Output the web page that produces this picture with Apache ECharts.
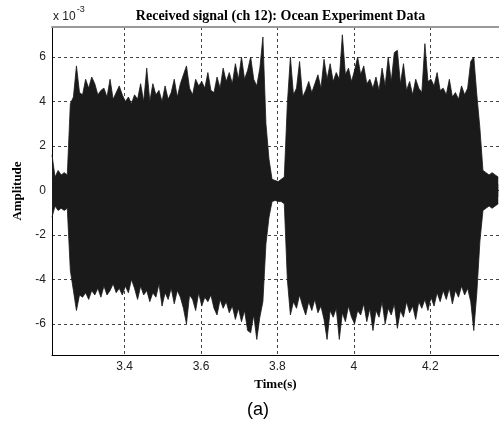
<!DOCTYPE html>
<html><head><meta charset="utf-8">
<script src="https://cdn.jsdelivr.net/npm/echarts@6/dist/echarts.min.js"></script>
<style>html,body{margin:0;padding:0;background:#fff}#c{width:499px;height:424px}</style>
</head><body><div id="c"></div>
<script>
// sample times: t = tStart + k*tStep
var tStart = 3.21;
var tStep = 0.008;
// upper peaks (x 10^-3)
var upperPeaks = [
 1.6,0.6,0.9,0.7,0.8,0.7,
 3.9,4.2,5.6,4.4,4.3,5.0,4.6,5.1,4.8,4.3,4.5,4.6,4.2,5.0,4.1,4.4,4.7,4.3,4.0,4.2,3.9,4.3,4.1,4.8,
 4.0,5.5,4.0,4.8,4.3,4.5,4.0,4.7,4.1,4.4,5.0,4.2,4.8,5.2,5.6,4.6,4.3,5.0,4.7,4.9,4.6,5.3,4.5,4.4,
 5.1,4.6,5.5,4.9,5.3,4.8,5.7,5.0,6.0,5.0,5.4,6.0,5.0,4.7,5.5,6.9,3.0,
 1.4,0.5,0.45,0.4,0.5,0.6,
 3.9,6.0,4.3,4.6,5.8,4.2,4.5,4.9,4.4,4.8,5.2,4.6,5.9,5.0,5.7,4.9,5.3,5.0,7.0,5.2,5.5,4.9,5.4,6.0,
 5.2,5.6,4.8,5.0,4.6,5.1,4.5,5.5,4.7,6.0,4.9,6.2,6.3,4.8,5.7,4.5,4.9,4.3,5.0,4.6,4.4,6.6,4.9,5.0,
 4.7,5.3,4.5,4.6,4.3,5.0,4.2,4.4,4.1,4.7,4.3,4.6,5.8,6.0,4.3,2.8,
 0.9,0.8,0.7,0.8,0.7,0.6
];
// lower peaks (x 10^-3)
var lowerPeaks = [
 -1.2,-0.7,-0.9,-0.8,-0.9,-0.8,
 -3.6,-4.5,-5.4,-4.7,-4.8,-4.6,-4.9,-4.5,-4.7,-4.4,-4.8,-4.3,-4.7,-4.5,-4.2,-4.6,-4.4,-4.7,-4.3,-4.6,-4.0,-4.4,-4.9,-4.3,
 -4.7,-4.5,-5.0,-4.6,-4.8,-4.2,-5.2,-4.6,-4.9,-4.4,-5.1,-4.5,-4.8,-5.3,-6.0,-4.7,-4.9,-5.4,-4.6,-5.2,-4.8,-5.0,-4.7,-5.3,
 -5.6,-4.9,-5.3,-5.0,-5.5,-5.2,-5.8,-5.3,-5.9,-5.4,-6.3,-6.4,-5.6,-6.7,-5.7,-5.0,-2.4,
 -1.2,-0.5,-0.45,-0.5,-0.5,-0.6,
 -4.0,-5.6,-5.0,-5.3,-4.7,-5.2,-5.6,-5.0,-5.4,-4.9,-5.5,-5.2,-5.8,-6.7,-5.4,-5.7,-5.3,-6.7,-5.5,-5.9,
 -5.2,-5.7,-6.0,-5.4,-5.6,-5.1,-5.9,-5.3,-6.3,-5.4,-5.7,-5.0,-6.0,-5.3,-5.6,-5.1,-6.2,-5.4,-5.7,-5.0,
 -5.5,-5.2,-5.8,-5.0,-5.3,-4.9,-5.4,-4.8,-5.2,-4.6,-5.0,-4.5,-4.9,-4.4,-5.1,-4.5,-4.8,-4.3,-4.7,-4.4,
 -5.0,-6.3,-4.6,-2.3,
 -0.9,-0.8,-0.7,-0.8,-0.7,-0.6
];
var xTicks = [3.4, 3.6, 3.8, 4.0, 4.2];
var yTicks = [-6, -4, -2, 0, 2, 4, 6];

var upperData = [], lowerData = [];
for (var k = 0; k < upperPeaks.length; k++) upperData.push([tStart + k * tStep, upperPeaks[k]]);
for (var j = 0; j < lowerPeaks.length; j++) lowerData.push([tStart + j * tStep, lowerPeaks[j]]);

var serif = '"Liberation Serif","DejaVu Serif",serif';
var sans = '"Liberation Sans",Arial,sans-serif';
var gridLine = { show: true, lineStyle: { color: '#444', type: [3, 3], width: 1 } };
var ink = '#1a1a1a';

var chart = echarts.init(document.getElementById('c'), null, { renderer: 'canvas' });
chart.setOption({
  animation: false,
  backgroundColor: '#fff',
  title: {
    text: 'Received signal (ch 12): Ocean Experiment Data',
    left: 275.5, top: 4, textAlign: 'center',
    textStyle: { fontFamily: serif, fontWeight: 'bold', fontSize: 14, color: '#000' }
  },
  grid: { left: 52, right: 0, top: 27, bottom: 69 },
  xAxis: [{
    type: 'value', min: 3.21, max: 4.38,
    name: 'Time(s)', nameLocation: 'middle', nameGap: 20,
    nameTextStyle: { fontFamily: serif, fontWeight: 'bold', fontSize: 13, color: '#000' },
    axisLine: { show: true, onZero: false, lineStyle: { color: '#000', width: 1 } },
    axisTick: { show: false, customValues: xTicks },
    axisLabel: { customValues: xTicks, fontFamily: sans, fontSize: 12, color: '#222', margin: 6 },
    splitLine: gridLine
  }, {
    type: 'value', position: 'top', min: 3.21, max: 4.38,
    axisLine: { show: true, onZero: false, lineStyle: { color: '#999', width: 2 } },
    axisTick: { show: false }, axisLabel: { show: false }, splitLine: { show: false }
  }],
  yAxis: {
    type: 'value', min: -7.4, max: 7.35,
    name: 'Amplitude', nameLocation: 'middle', nameGap: 28, nameRotate: 90,
    nameTextStyle: { fontFamily: serif, fontWeight: 'bold', fontSize: 13, color: '#000' },
    axisLine: { show: true, onZero: false, lineStyle: { color: '#000', width: 1 } },
    axisTick: { show: false, customValues: yTicks },
    axisLabel: { customValues: yTicks, fontFamily: sans, fontSize: 12, color: '#222', margin: 6 },
    splitLine: gridLine
  },
  graphic: [{
    type: 'text', left: 53, top: 5,
    style: {
      text: '{a|x 10}{b|-3}',
      rich: {
        a: { fontFamily: sans, fontSize: 12, fill: '#222', verticalAlign: 'bottom', lineHeight: 18 },
        b: { fontFamily: sans, fontSize: 9, fill: '#222', verticalAlign: 'top', lineHeight: 18, padding: [0, 0, 6, 1] }
      }
    }
  }, {
    type: 'text', left: 247, top: 401,
    style: { text: '(a)', fontFamily: sans, fontSize: 18, fill: '#000' }
  }],
  series: [{
    name: 'upper', type: 'line', data: upperData, xAxisIndex: 0,
    showSymbol: false, symbol: 'none',
    lineStyle: { color: ink, width: 0.8 },
    areaStyle: { color: ink, opacity: 1, origin: -0.3 },
    z: 1
  }, {
    name: 'lower', type: 'line', data: lowerData, xAxisIndex: 0,
    showSymbol: false, symbol: 'none',
    lineStyle: { color: ink, width: 0.8 },
    areaStyle: { color: ink, opacity: 1, origin: 0.3 },
    z: 1
  }]
});
</script></body></html>
